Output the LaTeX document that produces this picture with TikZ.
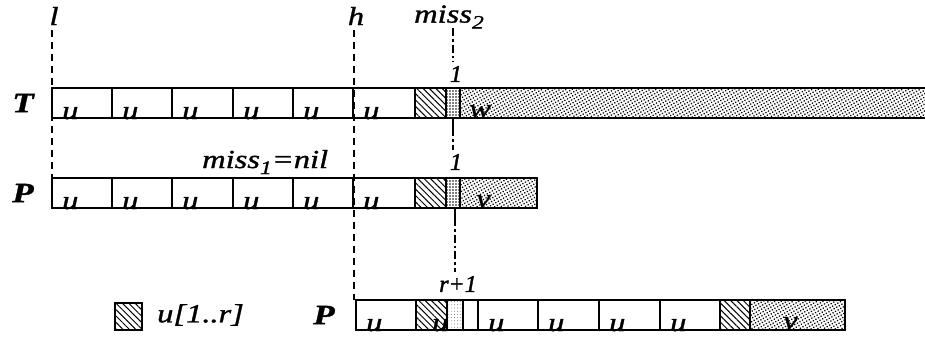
\documentclass[tikz,border=0pt]{standalone}
\usepackage{fontspec}
\setmainfont{Liberation Serif}[FakeStretch=1.25, FakeBold=1.2]
\newfontfamily\plainserif{Liberation Serif}[FakeBold=1.6]
\usetikzlibrary{patterns.meta,fit}
\tikzset{
  cellbox/.style={draw, line width=1.6pt, inner sep=0pt, outer sep=0pt},
  utext/.style={inner sep=0pt, anchor=base west, font=\fontsize{26}{28}\selectfont\itshape},
  lbl/.style={inner sep=0pt, font=\fontsize{26}{28}\selectfont\itshape},
  big/.style={inner sep=0pt, font=\fontsize{28}{30}\selectfont\bfseries\itshape},
  small/.style={inner sep=0pt, font=\fontsize{24}{26}\selectfont\plainserif\itshape},
  hatchpat/.style={pattern={Lines[angle=-45,distance=4.5pt,line width=1pt]}},
  dotpat/.style={pattern={Dots[distance=3pt,radius=0.8pt]}},
  lightdot/.style={fill=white, pattern={Dots[distance=3.2pt,radius=0.45pt]}, pattern color=black!70},
  wpat/.style={pattern={Dots[distance=3pt,radius=0.9pt,angle=30]}},
  vline/.style={line width=2pt, dash pattern=on 7pt off 5pt},
  mline/.style={line width=2.2pt, dash pattern=on 8pt off 3pt on 2.5pt off 3pt},
}
\newcommand\ucell[5]{%
  \node[cellbox, fit={(#2,#4) (#3,#5)}] (#1) {};
  \node[utext] (#1t) at ({#2+10},{#5+1}) {u};
}
\newcommand\pcell[6]{%
  \node[cellbox, #6, fit={(#2,#4) (#3,#5)}] (#1) {};
}
\begin{document}
\begin{tikzpicture}[x=1pt,y=-1pt]
\useasboundingbox (0,0) rectangle (925,340);
% ---------- T row
\ucell{t1}{52}{112}{88}{118}
\ucell{t2}{112}{172}{88}{118}
\ucell{t3}{172}{233}{88}{118}
\ucell{t4}{233}{293}{88}{118}
\ucell{t5}{293}{353}{88}{118}
\ucell{t6}{353}{415}{88}{118}
\node[utext] (wt) at (469,117) {w};
\pcell{th}{415}{446}{88}{118}{hatchpat}
\pcell{td}{446}{460}{88}{118}{dotpat}
\pcell{tw}{460}{932}{88}{118}{wpat}
\node[big] (T) at (23,103) {T};
% ---------- P row
\ucell{p1}{52}{112}{178}{208}
\ucell{p2}{112}{172}{178}{208}
\ucell{p3}{172}{233}{178}{208}
\ucell{p4}{233}{293}{178}{208}
\ucell{p5}{293}{353}{178}{208}
\ucell{p6}{353}{415}{178}{208}
\node[utext] (vt) at (476,207) {v};
\pcell{ph}{415}{446}{178}{208}{hatchpat}
\pcell{pd}{446}{460}{178}{208}{dotpat}
\pcell{pv}{460}{537}{178}{208}{wpat}
\node[big] (P) at (23,193) {P};
% ---------- bottom P row
\ucell{b1}{356}{416}{300}{330}
\node[cellbox, fit={(416,300) (478,330)}] (b2) {};
\node[utext] (b2t) at (432,331) {u};
\pcell{bh}{416}{447}{300}{330}{hatchpat}
\pcell{bd}{447}{463}{300}{330}{lightdot}
\ucell{b3}{478}{538}{300}{330}
\ucell{b4}{538}{599}{300}{330}
\ucell{b5}{599}{660}{300}{330}
\ucell{b6}{660}{720}{300}{330}
\node[utext] (vb) at (783,329) {v};
\pcell{bhh}{720}{750}{300}{330}{hatchpat}
\pcell{bv}{750}{845}{300}{330}{wpat}
\node[big] (P2) at (324,315) {P};
% ---------- legend
\node[cellbox, hatchpat, fit={(115,303) (142,330)}] (leg) {};
\node[lbl, anchor=west] (legt) at (157,315) {u[1..r]};
% ---------- labels
\node[lbl] (l) at (54,16) {l};
\node[lbl] (h) at (356,16) {h};
\node[lbl, anchor=west] (miss2) at (414,17) {miss\raisebox{-6pt}{\fontsize{19}{20}\selectfont 2}};
\node[small] (one1) at (456,74) {1};
\node[small] (one2) at (456,162) {1};
\node[small] (rp1) at (458,284) {r+1};
\node[lbl, anchor=west] (miss1) at (202,162) {miss\raisebox{-6pt}{\fontsize{19}{20}\selectfont 1}=nil};
% ---------- dashed lines
\coordinate (lt) at (52,30);
\coordinate (ht) at (354,30);
\coordinate (hb) at (354,300);
\draw[vline] (lt) -- (p1.north west);
\draw[vline] (ht) -- (hb);
\coordinate (m0) at (453,28);
\coordinate (m1) at (453,62);
\coordinate (m2) at (453,118);
\coordinate (m3) at (453,150);
\coordinate (m4) at (455,208);
\coordinate (m5) at (455,272);
\draw[mline] (m0) -- (m1);
\draw[line width=2pt] (m2) -- ++(0,10);
\draw[mline] ([yshift=-10pt]m2) -- (m3);
\draw[line width=2pt] (m4) -- ++(0,10);
\draw[mline] ([yshift=-10pt]m4) -- (m5);
\end{tikzpicture}
\end{document}
